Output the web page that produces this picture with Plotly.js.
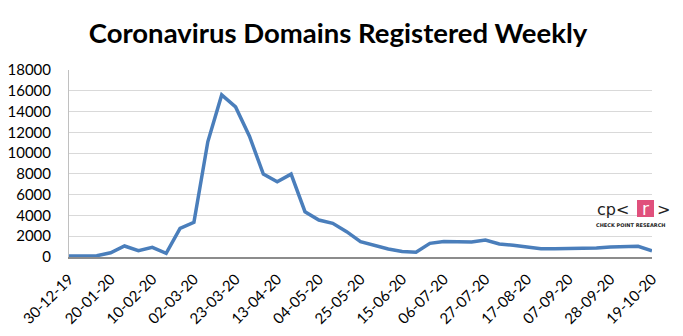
<!DOCTYPE html>
<html><head><meta charset="utf-8">
<script src="https://cdn.plot.ly/plotly-3.0.1.min.js"></script>
<style>html,body{margin:0;padding:0;background:#fff}#chart{width:683px;height:336px}</style>
</head><body><div id="chart"></div>
<script>
const weeks = ["30-12-19","06-01-20","13-01-20","20-01-20","27-01-20","03-02-20","10-02-20","17-02-20","24-02-20","02-03-20","09-03-20","16-03-20","23-03-20","30-03-20","06-04-20","13-04-20","20-04-20","27-04-20","04-05-20","11-05-20","18-05-20","25-05-20","01-06-20","08-06-20","15-06-20","22-06-20","29-06-20","06-07-20","13-07-20","20-07-20","27-07-20","03-08-20","10-08-20","17-08-20","24-08-20","31-08-20","07-09-20","14-09-20","21-09-20","28-09-20","05-10-20","12-10-20","19-10-20"];
const domains = [100,100,120,410,1060,600,930,350,2760,3340,11090,15600,14450,11630,7980,7240,7980,4360,3560,3240,2440,1470,1090,770,540,450,1310,1500,1470,1440,1630,1250,1120,960,800,800,800,860,860,960,960,1030,600];
const tickLabels = ["30-12-19","20-01-20","10-02-20","02-03-20","23-03-20","13-04-20","04-05-20","25-05-20","15-06-20","06-07-20","27-07-20","17-08-20","07-09-20","28-09-20","19-10-20"];
const yTicks = [0,2000,4000,6000,8000,10000,12000,14000,16000,18000];

const W=683,H=336,L=69,R=31,T=70,B=79;
const px=x=>(x-L)/(W-L-R), py=y=>(H-B-y)/(H-T-B);

Plotly.newPlot('chart',[{
  x: weeks, y: domains, type:'scatter', mode:'lines',
  line:{color:'#4A7EBB', width:3.5}, hoverinfo:'skip'
}],{
  width:W,height:H,
  margin:{l:L,r:R,t:T,b:B},
  paper_bgcolor:'#fff',plot_bgcolor:'#fff',
  showlegend:false,
  font:{family:'Lato, sans-serif',color:'#000'},
  title:{text:'<b>Coronavirus Domains Registered Weekly</b>',font:{family:'Lato, sans-serif',size:27.5,color:'#000'},x:338/W,xanchor:'center',xref:'container',y:1-33/H,yref:'container',yanchor:'middle'},
  xaxis:{type:'category',range:[0,42],tickmode:'array',tickvals:tickLabels,ticktext:tickLabels,tickangle:-45,ticklabelstandoff:6,
    tickfont:{size:15,family:'Lato, sans-serif'},showgrid:false,showline:true,linecolor:'#8c8c8c',linewidth:1.5,ticks:'',zeroline:false,fixedrange:true},
  yaxis:{range:[0,18000],tickmode:'array',tickvals:yTicks,ticktext:yTicks.map(String),tickfont:{size:15,family:'Lato, sans-serif'},ticklabelstandoff:14,
    showgrid:true,gridcolor:'#d9d9d9',gridwidth:1,showline:true,linecolor:'#c0c0c0',linewidth:1,ticks:'',zeroline:false,fixedrange:true},
  shapes:[{type:'rect',xref:'paper',yref:'paper',x0:px(637),x1:px(654),y0:py(217),y1:py(200),fillcolor:'#E0507C',line:{width:0}}],
  annotations:[
    {xref:'paper',yref:'paper',x:px(595),y:py(209),xanchor:'left',yanchor:'middle',text:'cp&lt;',showarrow:false,font:{family:'DejaVu Sans, sans-serif',size:16,color:'#222'}},
    {xref:'paper',yref:'paper',x:px(645.5),y:py(209),xanchor:'center',yanchor:'middle',text:'r',showarrow:false,font:{family:'DejaVu Sans, sans-serif',size:17,color:'#fff'}},
    {xref:'paper',yref:'paper',x:px(655),y:py(209),xanchor:'left',yanchor:'middle',text:'&gt;',showarrow:false,font:{family:'DejaVu Sans, sans-serif',size:16,color:'#222'}},
    {xref:'paper',yref:'paper',x:px(630.5),y:py(225),xanchor:'center',yanchor:'middle',text:'<b>CHECK POINT RESEARCH</b>',showarrow:false,font:{family:'DejaVu Sans, sans-serif',size:5,color:'#222'}}
  ]
},{displayModeBar:false,staticPlot:true});
</script></body></html>
